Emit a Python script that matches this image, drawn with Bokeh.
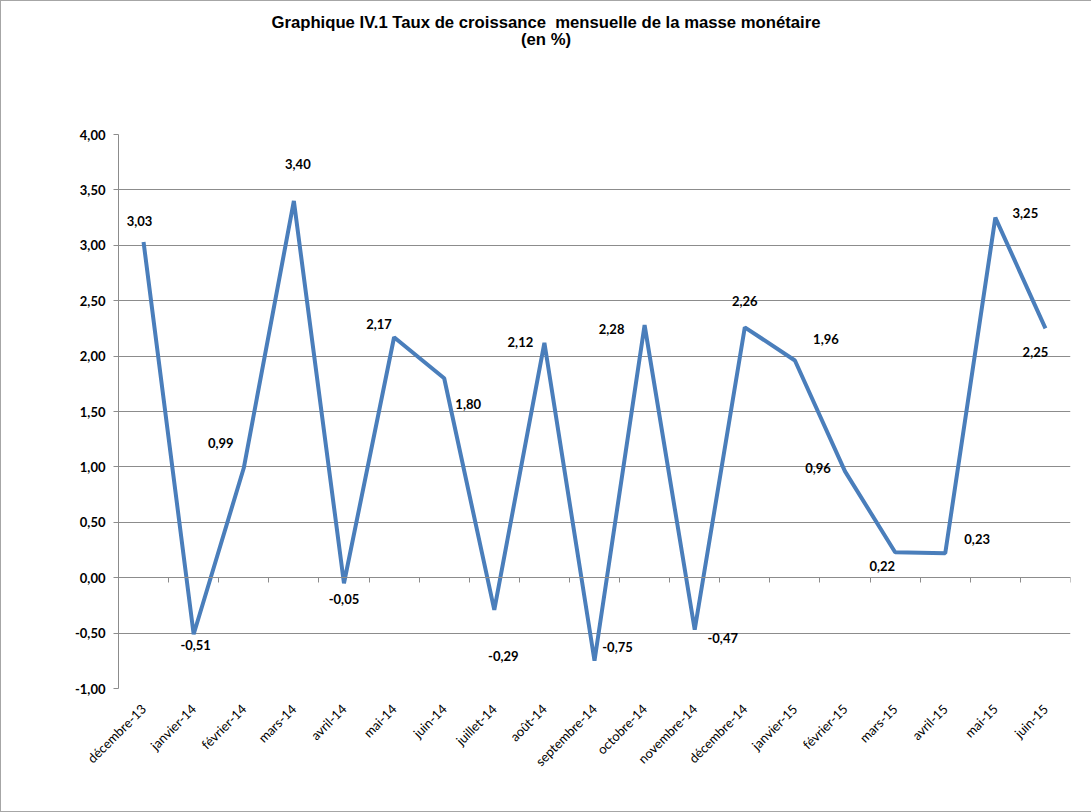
import math
from bokeh.plotting import figure
from bokeh.layouts import column
from bokeh.models import (FactorRange, Range1d, LinearAxis, FixedTicker, SingleIntervalTicker,
                          CustomJSTickFormatter, ColumnDataSource, Div)
from bokeh.core.properties import value
from bokeh.embed import file_html
from bokeh.resources import INLINE

months = ["décembre-13", "janvier-14", "février-14", "mars-14", "avril-14", "mai-14",
          "juin-14", "juillet-14", "août-14", "septembre-14", "octobre-14", "novembre-14",
          "décembre-14", "janvier-15", "février-15", "mars-15", "avril-15", "mai-15", "juin-15"]
growth = [3.03, -0.51, 0.99, 3.40, -0.05, 2.17, 1.80, -0.29, 2.12, -0.75, 2.28, -0.47,
          2.26, 1.96, 0.96, 0.23, 0.22, 3.25, 2.25]
title_line1 = "Graphique IV.1 Taux de croissance  mensuelle de la masse monétaire"
title_line2 = "(en %)"

# label placement offsets in screen pixels (dx right, dy down)
label_dx = [-4, 2, -23, 4, 0, -15, 24, 9, -24, 23, -33, 28, 0, 31, -27, 82, -63, 30, -10]
label_dy = [-21, 11, -25, -37, 16, -13, 26, 46, -1, -14, 4, 8, -26, -22, -3, -13, 13, -5, 24]

labels = [f"{v:.2f}".replace(".", ",") for v in growth]
src = ColumnDataSource(dict(month=months, growth=growth, label=labels, dx=label_dx, dy=label_dy))

GRAY = "#8c8c8c"
BLUE = "#4a7ebb"
W = 1090
TITLE_H = 50

title_html = (
    '<div style="padding-top:13px; line-height:17px; text-align:center; '
    "font-family:'Liberation Sans', Arial, sans-serif; font-weight:bold; font-size:16.7px; "
    f'color:black; white-space:pre; width:{W}px;">'
    f"{title_line1}<br>{title_line2}</div>"
)
title = Div(text=title_html, width=W, height=TITLE_H, margin=0)

p = figure(width=W, height=810 - TITLE_H,
           x_range=FactorRange(factors=months, range_padding=0),
           y_range=Range1d(-1, 4),
           output_backend="svg", toolbar_location=None, title=None,
           min_border_left=117, min_border_right=W - 1069, min_border_top=133 - TITLE_H,
           min_border_bottom=(810 - TITLE_H) - (687 - TITLE_H))
p.outline_line_color = None
p.background_fill_color = "white"
p.border_fill_color = "white"

# y axis
ya = p.yaxis[0]
ya.ticker = SingleIntervalTicker(interval=0.5, num_minor_ticks=0)
ya.formatter = CustomJSTickFormatter(code="return tick.toFixed(2).replace('.', ',');")
ya.major_label_text_font = "Lato"
ya.major_label_text_font_style = "bold"
ya.major_label_text_font_size = "13px"
ya.major_label_text_color = "black"
ya.axis_line_color = GRAY
ya.major_tick_line_color = GRAY
ya.major_tick_in = 0
ya.major_tick_out = 5
ya.minor_tick_line_color = None
ya.major_label_standoff = 8

p.xgrid.grid_line_color = None
p.ygrid.grid_line_color = GRAY

# category labels at bottom
xa = p.xaxis[0]
xa.axis_line_color = None
xa.major_tick_line_color = None
xa.minor_tick_line_color = None
xa.major_tick_in = 0
xa.major_tick_out = 0
xa.major_label_orientation = math.pi / 4
xa.major_label_text_font = "Lato"
xa.major_label_text_font_size = "13px"
xa.major_label_text_color = "black"
xa.major_label_standoff = 18

# axis line at zero with ticks between categories
bx = LinearAxis(ticker=FixedTicker(ticks=list(range(len(months) + 1))), fixed_location=0,
                formatter=CustomJSTickFormatter(code="return '';"),
                major_tick_in=0, major_tick_out=5,
                axis_line_color=GRAY, major_tick_line_color=GRAY, minor_tick_line_color=None)
p.add_layout(bx, "below")

p.line(x="month", y="growth", source=src, line_color=BLUE, line_width=4)
p.text(x="month", y="growth", text="label", x_offset="dx", y_offset="dy", source=src,
       text_font=value("Lato"), text_font_style="bold", text_font_size="13px",
       text_color="black", text_align="center", text_baseline="middle")

layout = column(title, p, spacing=0,
                styles={"border-left": "1px solid #a6a6a6", "border-top": "1px solid #a6a6a6",
                        "border-bottom": "1px solid #a6a6a6", "background": "white"})

open("out.html", "w").write(file_html(layout, INLINE))
